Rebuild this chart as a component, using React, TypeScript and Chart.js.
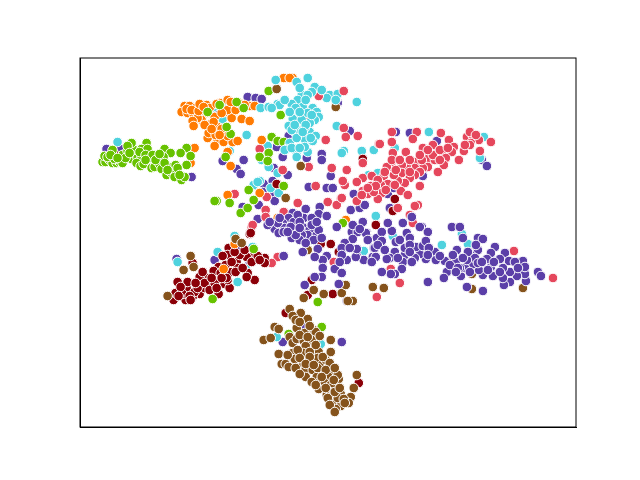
import React, { useEffect, useRef } from "react";
import { Chart, registerables } from "chart.js";

Chart.register(...registerables);

type P = [number, number];

const purple: P[] = [[306,209],[320,207],[319,214],[327,216],[293,213],[289,218],[304,218],[312,218],[294,222],[283,223],[275,229],[279,233],[285,228],[296,230],[292,238],[303,227],[310,230],[308,235],[317,235],[319,230],[318,249],[327,256],[323,260],[303,252],[315,257],[323,268],[335,269],[342,273],[322,277],[315,277],[305,285],[339,284],[337,227],[352,232],[358,232],[367,233],[353,239],[345,243],[342,248],[357,256],[364,260],[373,257],[377,238],[374,248],[284,256],[366,233],[382,232],[392,231],[382,241],[396,242],[407,233],[410,238],[422,227],[428,232],[478,238],[483,239],[463,238],[495,247],[491,253],[505,253],[523,261],[538,272],[541,276],[526,281],[525,274],[525,267],[517,276],[510,272],[509,261],[510,282],[504,285],[503,278],[503,268],[500,259],[491,267],[493,276],[483,275],[479,270],[478,250],[487,259],[476,245],[471,255],[467,268],[473,264],[461,276],[447,272],[444,278],[456,262],[457,250],[453,255],[445,261],[435,252],[436,260],[426,259],[420,254],[415,258],[416,247],[423,246],[426,241],[429,248],[405,255],[403,262],[395,252],[390,258],[387,259],[402,269],[395,274],[391,274],[382,272],[428,282],[375,248],[376,257],[356,257],[357,249],[467,287],[483,291],[465,268],[460,268],[475,258],[478,263],[467,260],[405,248],[410,245],[268,225],[278,223],[363,222],[353,225],[360,229],[388,223],[403,223],[412,217],[420,227],[452,227],[460,227],[298,215],[300,222],[291,227],[284,232],[302,235],[300,240],[296,235],[312,225],[314,240],[322,238],[280,218],[270,222],[288,232],[306,243],[300,228],[317,222],[372,262],[378,245],[385,250],[398,258],[410,252],[412,262],[440,256],[450,265],[458,268],[470,272],[482,262],[494,262],[500,272],[515,262],[518,268],[456,272],[488,270],[468,252],[400,240],[368,240],[347,260],[342,255],[350,248],[340,262],[428,255],[463,258]];
const purpleStray: P[] = [[107,149],[120,148],[192,177],[217,113],[248,97],[256,98],[262,99],[223,161],[244,160],[237,169],[241,174],[254,186],[289,136],[277,147],[283,157],[307,158],[322,154],[322,160],[274,168],[288,175],[338,103],[350,131],[331,176],[354,194],[309,187],[327,188],[333,188],[264,184],[273,181],[396,132],[410,133],[437,141],[432,148],[482,160],[487,166],[423,176],[351,210],[360,208],[365,205],[388,194],[394,188],[390,208],[263,192],[273,193],[243,207],[259,205],[275,201],[258,219],[215,260],[239,250],[250,262],[177,259],[303,327],[283,342],[342,342],[347,301]];
const red: P[] = [[392,132],[417,132],[413,139],[380,144],[392,142],[393,153],[406,152],[423,148],[433,145],[441,133],[449,140],[454,147],[464,151],[467,137],[473,136],[470,132],[479,140],[471,143],[480,151],[491,142],[443,154],[459,160],[452,152],[427,154],[428,159],[435,160],[446,158],[444,165],[438,172],[428,167],[423,168],[415,162],[415,168],[407,167],[402,165],[420,172],[415,175],[402,173],[410,178],[405,183],[398,181],[394,175],[392,167],[387,167],[384,176],[388,184],[381,185],[377,192],[371,186],[363,191],[368,194],[363,178],[357,182],[347,170],[345,185],[343,181],[342,198],[420,186],[401,191],[408,195],[382,193],[378,199],[357,201],[398,208],[418,205],[415,206],[363,163],[372,176],[378,180],[386,190],[374,192],[392,160],[400,160],[410,172],[422,160],[433,155],[440,160],[440,150],[448,148],[470,145],[476,135],[465,145],[428,150],[396,170],[376,186],[368,188],[420,155],[410,160],[385,172],[362,195],[395,185]];
const redStray: P[] = [[344,128],[346,137],[358,136],[410,215],[319,96],[344,91],[326,140],[379,144],[309,167],[283,170],[332,168],[316,186],[378,182],[260,149],[235,194],[267,197],[298,203],[266,210],[284,212],[266,217],[252,227],[278,257],[328,202],[341,199],[337,205],[334,262],[377,297],[413,223],[391,269],[400,283],[514,251],[553,278],[253,225],[272,263]];
const cyan: P[] = [[276,80],[297,82],[308,78],[315,87],[312,92],[302,95],[308,95],[298,100],[292,104],[303,107],[313,108],[295,112],[317,112],[319,117],[298,117],[293,119],[315,120],[289,126],[299,125],[310,123],[310,132],[295,132],[292,130],[316,136],[305,139],[313,141],[290,143],[278,104],[261,108],[269,107],[280,105],[308,152],[297,152],[297,157],[287,149],[285,150],[300,88],[306,100],[296,108],[308,113],[302,120],[305,128],[297,138],[306,125],[312,115],[300,112],[290,112],[295,125],[303,132],[311,138],[305,147],[292,148],[300,148],[285,100],[272,108],[322,90],[336,100]];
const cyanStray: P[] = [[268,146],[262,160],[269,167],[278,173],[330,95],[338,94],[327,98],[357,102],[337,126],[344,151],[342,153],[362,151],[374,150],[369,175],[378,173],[247,135],[230,151],[223,119],[227,104],[260,181],[254,185],[271,188],[118,142],[214,107],[258,182],[429,132],[484,137],[376,216],[395,148],[480,158],[279,193],[364,251],[312,240],[235,236],[218,252],[246,269],[238,282],[253,247],[393,236],[462,234],[468,244],[442,245],[492,262],[178,262],[277,337],[321,344]];
const green: P[] = [[103,162],[106,162],[105,156],[110,160],[113,163],[117,163],[120,162],[123,163],[113,150],[123,155],[132,159],[128,151],[135,153],[138,158],[142,157],[137,163],[141,166],[144,164],[150,158],[152,168],[155,167],[160,164],[162,169],[170,167],[172,167],[176,165],[177,172],[167,175],[172,173],[175,177],[182,180],[185,177],[187,165],[133,148],[132,143],[128,146],[147,143],[142,149],[148,149],[165,149],[171,153],[164,157],[187,148],[181,153],[191,156],[217,201],[215,201],[230,203],[241,213],[248,208],[249,190],[254,200],[284,186],[343,223],[269,91],[281,115],[272,137],[278,141],[284,142],[269,153],[260,157],[268,161],[244,108],[237,102],[226,157],[231,134],[208,112],[220,105],[227,127],[254,249],[213,299],[318,302],[322,327],[289,334],[108,157],[115,159],[126,158],[130,153],[140,152],[146,155],[153,155],[156,160],[165,163],[168,170],[178,168],[146,160],[111,155],[118,158],[160,154],[180,175]];
const orange: P[] = [[185,106],[190,106],[196,108],[182,112],[188,113],[194,114],[203,115],[207,105],[206,109],[207,113],[202,120],[198,118],[193,121],[194,126],[211,124],[218,127],[212,132],[222,129],[208,138],[218,140],[224,142],[233,142],[238,141],[215,146],[220,103],[228,100],[234,112],[225,112],[232,118],[242,119],[250,121],[250,106],[255,106],[195,148],[191,163],[231,166],[228,152],[209,133],[215,117],[262,140],[284,78],[293,78],[290,78],[228,195],[260,193],[278,218],[346,220],[224,269],[235,244],[187,109],[192,110],[199,111],[200,104],[210,108],[228,110],[236,110],[214,122],[216,135],[228,136],[205,125],[212,129],[220,135],[239,103],[245,105],[231,102],[222,113],[217,104],[204,107]];
const brown: P[] = [[290,309],[301,313],[293,316],[275,327],[279,329],[308,319],[297,328],[305,333],[314,330],[316,332],[264,340],[271,338],[290,337],[293,343],[297,339],[304,341],[312,340],[313,347],[306,346],[331,340],[279,354],[293,353],[304,353],[319,352],[331,352],[282,364],[286,364],[289,367],[295,359],[309,361],[318,358],[322,365],[326,360],[330,363],[302,367],[306,370],[313,370],[331,372],[317,377],[329,377],[306,377],[339,379],[338,375],[312,382],[320,382],[325,383],[331,385],[319,389],[332,388],[330,392],[327,395],[333,396],[341,394],[351,397],[354,388],[357,375],[349,403],[337,403],[341,406],[338,398],[336,409],[328,398],[304,298],[324,294],[353,301],[342,293],[286,198],[236,239],[242,243],[308,250],[373,287],[346,285],[314,290],[348,301],[384,288],[472,274],[472,289],[523,288],[168,296],[191,256],[184,270],[194,267],[277,89],[336,107],[301,166],[296,320],[300,322],[310,326],[300,335],[308,337],[320,336],[298,350],[310,352],[300,358],[288,355],[316,345],[323,357],[296,368],[318,368],[326,370],[300,374],[335,368],[322,377],[334,380],[316,385],[326,388],[335,392],[344,399],[340,388],[330,405],[345,403],[335,412],[310,357],[306,364],[314,365]];
const maroon: P[] = [[250,234],[229,248],[228,255],[255,254],[247,257],[237,262],[265,258],[265,263],[238,268],[230,272],[219,267],[214,271],[221,273],[248,273],[255,280],[225,284],[230,288],[219,294],[212,285],[208,278],[200,277],[202,285],[200,294],[193,297],[186,300],[174,300],[178,282],[187,288],[195,292],[183,294],[176,293],[205,288],[188,282],[193,263],[228,280],[223,256],[227,278],[247,277],[116,155],[306,116],[310,110],[363,159],[277,184],[376,225],[395,199],[393,211],[251,233],[331,244],[321,244],[339,252],[312,280],[308,295],[333,294],[286,313],[359,383],[452,262],[181,287],[190,296],[198,288],[205,283],[210,290],[215,283],[222,278],[236,272],[243,268],[252,262],[240,255],[235,252],[245,250],[258,256],[226,265],[232,262],[179,296],[196,283],[203,272],[212,278],[217,288],[260,260],[191,300]];

const classes: { pts: P[]; color: string }[] = [
  { pts: purple, color: "#5b3fa8" },
  { pts: red, color: "#e5475c" },
  { pts: cyan, color: "#4fd2de" },
  { pts: brown, color: "#85531c" },
  { pts: green, color: "#67c200" },
  { pts: orange, color: "#ff7b03" },
  { pts: maroon, color: "#8b0008" },
  { pts: redStray, color: "#e5475c" },
  { pts: cyanStray, color: "#4fd2de" },
  { pts: purpleStray, color: "#5b3fa8" },
];

export default function App() {
  const ref = useRef<HTMLCanvasElement>(null);
  useEffect(() => {
    document.body.style.margin = "0";
    const chart = new Chart(ref.current!, {
      type: "scatter",
      data: {
        datasets: classes.map((c) => ({
          data: c.pts.map(([x, y]) => ({ x, y })),
          backgroundColor: c.color,
          borderColor: "#ffffff",
          borderWidth: 1,
          pointRadius: 4.8,
        })),
      },
      options: {
        animation: false,
        responsive: false,
        layout: { padding: { left: 80, right: 64, top: 58, bottom: 53 } },
        plugins: { legend: { display: false }, tooltip: { enabled: false } },
        scales: {
          x: {
            type: "linear", min: 80.5, max: 576,
            grid: { display: false, drawTicks: false },
            ticks: { display: false },
            border: { display: true, color: "#000000", width: 1 },
          },
          y: {
            type: "linear", min: 58, max: 427, reverse: true,
            grid: { display: false, drawTicks: false },
            ticks: { display: false },
            border: { display: true, color: "#000000", width: 1 },
          },
        },
      },
      plugins: [{
        id: "frame",
        afterDatasetsDraw(c: Chart) {
          const { left, right, top, bottom } = c.chartArea;
          const g = c.ctx;
          g.save();
          g.strokeStyle = "#000000";
          g.lineWidth = 1;
          g.strokeRect(left, top, right - left, bottom - top);
          g.restore();
        },
      }],
    });
    return () => chart.destroy();
  }, []);
  return <canvas ref={ref} width={640} height={480} style={{ display: "block" }} />;
}
